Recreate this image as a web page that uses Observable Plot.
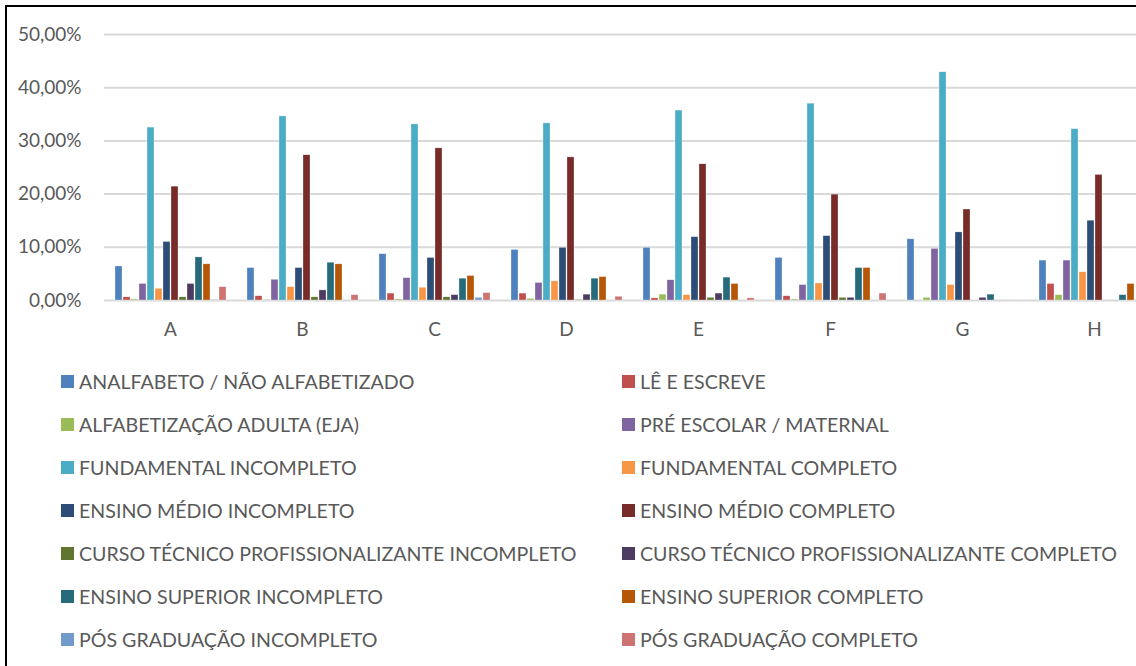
<!DOCTYPE html>
<html><head><meta charset="utf-8">
<script src="https://cdn.jsdelivr.net/npm/d3@7"></script>
<script src="https://cdn.jsdelivr.net/npm/@observablehq/plot@0.6"></script>
<style>
html,body{margin:0;padding:0;background:#fff;overflow:hidden;width:1136px;height:666px;}
#frame{position:absolute;left:5px;top:5px;width:1200px;height:700px;border-left:2px solid #000;border-top:2px solid #000;}
#chart{position:absolute;left:0;top:0;width:1170px;}
#chart svg{max-width:none !important;}
#legend{position:absolute;left:0;top:0;font-family:Lato,sans-serif;font-size:19.6px;color:#595959;}
.item{position:absolute;display:flex;align-items:center;white-space:nowrap;}
.sw{width:13px;height:13px;margin-right:5px;}
</style></head>
<body>
<div id="frame"></div>
<div id="chart"></div>
<div id="legend"></div>
<script>
const groups = ["A","B","C","D","E","F","G","H"];
const series = [
  "ANALFABETO / NÃO ALFABETIZADO",
  "LÊ E ESCREVE",
  "ALFABETIZAÇÃO ADULTA (EJA)",
  "PRÉ ESCOLAR / MATERNAL",
  "FUNDAMENTAL INCOMPLETO",
  "FUNDAMENTAL COMPLETO",
  "ENSINO MÉDIO INCOMPLETO",
  "ENSINO MÉDIO COMPLETO",
  "CURSO TÉCNICO PROFISSIONALIZANTE INCOMPLETO",
  "CURSO TÉCNICO PROFISSIONALIZANTE COMPLETO",
  "ENSINO SUPERIOR INCOMPLETO",
  "ENSINO SUPERIOR COMPLETO",
  "PÓS GRADUAÇÃO INCOMPLETO",
  "PÓS GRADUAÇÃO COMPLETO"
];
const colors = ["#4F81BD","#C0504D","#9BBB59","#8064A2","#4BACC6","#F79646","#2C4D75","#772C2A","#5F7530","#4D3B62","#276A7C","#B65708","#729ACA","#CD7371"];
// values in percent, one array per group, in series order
const valA = [6.4, 0.6, 0.2, 3.1, 32.5, 2.2, 11.0, 21.4, 0.6, 3.1, 8.1, 6.8, 0.1, 2.5];
const valB = [6.1, 0.8, 0.1, 3.9, 34.6, 2.5, 6.1, 27.3, 0.6, 1.9, 7.1, 6.8, 0.0, 1.0];
const valC = [8.7, 1.3, 0.2, 4.2, 33.1, 2.4, 8.0, 28.6, 0.6, 1.0, 4.1, 4.6, 0.5, 1.4];
const valD = [9.5, 1.3, 0.3, 3.3, 33.3, 3.6, 9.9, 26.9, 0.1, 1.1, 4.1, 4.4, 0.0, 0.7];
const valE = [9.9, 0.4, 1.1, 3.8, 35.7, 1.0, 11.9, 25.6, 0.5, 1.3, 4.3, 3.1, 0.0, 0.4];
const valF = [8.0, 0.8, 0.2, 2.9, 37.0, 3.2, 12.1, 19.9, 0.5, 0.5, 6.1, 6.1, 0.0, 1.3];
const valG = [11.5, 0.0, 0.5, 9.7, 42.9, 2.9, 12.8, 17.1, 0.0, 0.5, 1.1, 0.0, 0.0, 0.0];
const valH = [7.5, 3.1, 1.0, 7.5, 32.2, 5.3, 15.0, 23.6, 0.0, 0.0, 1.0, 3.1, 0.0, 0.0];
const yTicks = [0, 10, 20, 30, 40, 50];

const allVals = [valA, valB, valC, valD, valE, valF, valG, valH];
const data = [];
groups.forEach((g, gi) => series.forEach((s, si) => data.push({group: g, series: s, value: allVals[gi][si]})));

const fmt = d => d.toFixed(2).replace(".", ",") + "%";

const chart = Plot.plot({
  width: 1170,
  height: 345,
  marginLeft: 104,
  marginRight: 10,
  marginTop: 34,
  marginBottom: 45,
  style: {fontFamily: "Lato, sans-serif", fontSize: "19px", color: "#595959", background: "transparent", maxWidth: "none"},
  fx: {domain: groups, padding: 0, label: null, axis: "bottom", tickSize: 0, tickPadding: 22},
  x: {domain: series, axis: null, padding: 0.18, paddingOuter: 0.76},
  y: {domain: [0, 50], ticks: yTicks, tickFormat: fmt, label: null, tickSize: 0, tickPadding: 23},
  color: {domain: series, range: colors},
  marks: [
    Plot.ruleY(yTicks, {stroke: "#d9d9d9", strokeWidth: 2}),
    Plot.barY(data, {fx: "group", x: "series", y: "value", fill: "series", stroke: "#fff", strokeOpacity: 0.6, strokeWidth: 0.5})
  ]
});
document.getElementById("chart").appendChild(chart);

const legend = document.getElementById("legend");
series.forEach((s, i) => {
  const col = i % 2, row = Math.floor(i / 2);
  const div = document.createElement("div");
  div.className = "item";
  div.style.left = (col === 0 ? 61 : 622) + "px";
  div.style.top = (381 + row * 43 - 11) + "px";
  div.style.height = "22px";
  const sw = document.createElement("span");
  sw.className = "sw";
  sw.style.background = colors[i];
  const t = document.createElement("span");
  t.textContent = s;
  div.appendChild(sw); div.appendChild(t);
  legend.appendChild(div);
});
</script>
</body></html>
